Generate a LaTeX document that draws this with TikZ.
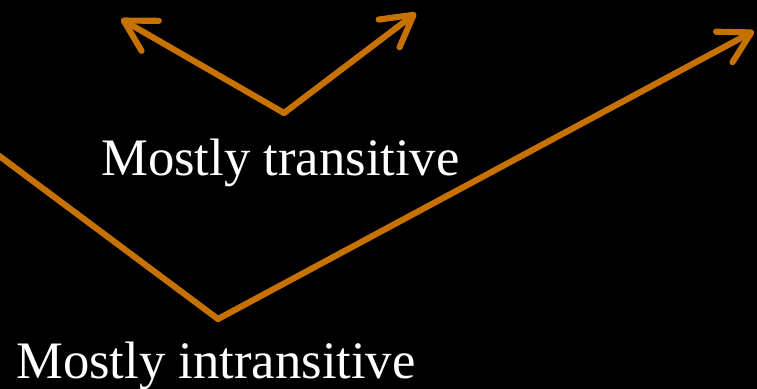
\documentclass[tikz,border=0pt]{standalone}
\usepackage{fontspec}
\setmainfont{Liberation Serif}
\usetikzlibrary{arrows.meta}
\definecolor{amber}{HTML}{C77100}
\tikzset{
  every picture/.style={line join=round, line cap=round},
  pointer/.style={draw=amber, line width=4.6pt,
    -{Straight Barb[length=23pt,width=26pt,round]}},
  caption/.style={text=white, inner sep=0pt, anchor=base west,
    font=\fontsize{39.5}{47}\selectfont},
}

\begin{document}
\begin{tikzpicture}[x=0.75pt,y=-0.75pt]
\fill[black] (0,0) rectangle (757,389);
\clip (0,0) rectangle (757,389);
% small V
\coordinate (tv) at (284,113);
\coordinate (tl) at (121,19);
\coordinate (tr) at (416,13);
\draw[pointer] (tv)--(tl);
\draw[pointer] (tv)--(tr);
% large V
\coordinate (iv) at (218,319);
\coordinate (is) at (-6,152);
\coordinate (ir) at (754,31);
\draw[pointer,-] (iv)--(is);
\draw[pointer] (iv)--(ir);
% labels
\node[caption] (trans) at (101,175) {Mostly transitive};
\node[caption] (intrans) at (16,378) {Mostly intransitive};
\end{tikzpicture}
\end{document}
